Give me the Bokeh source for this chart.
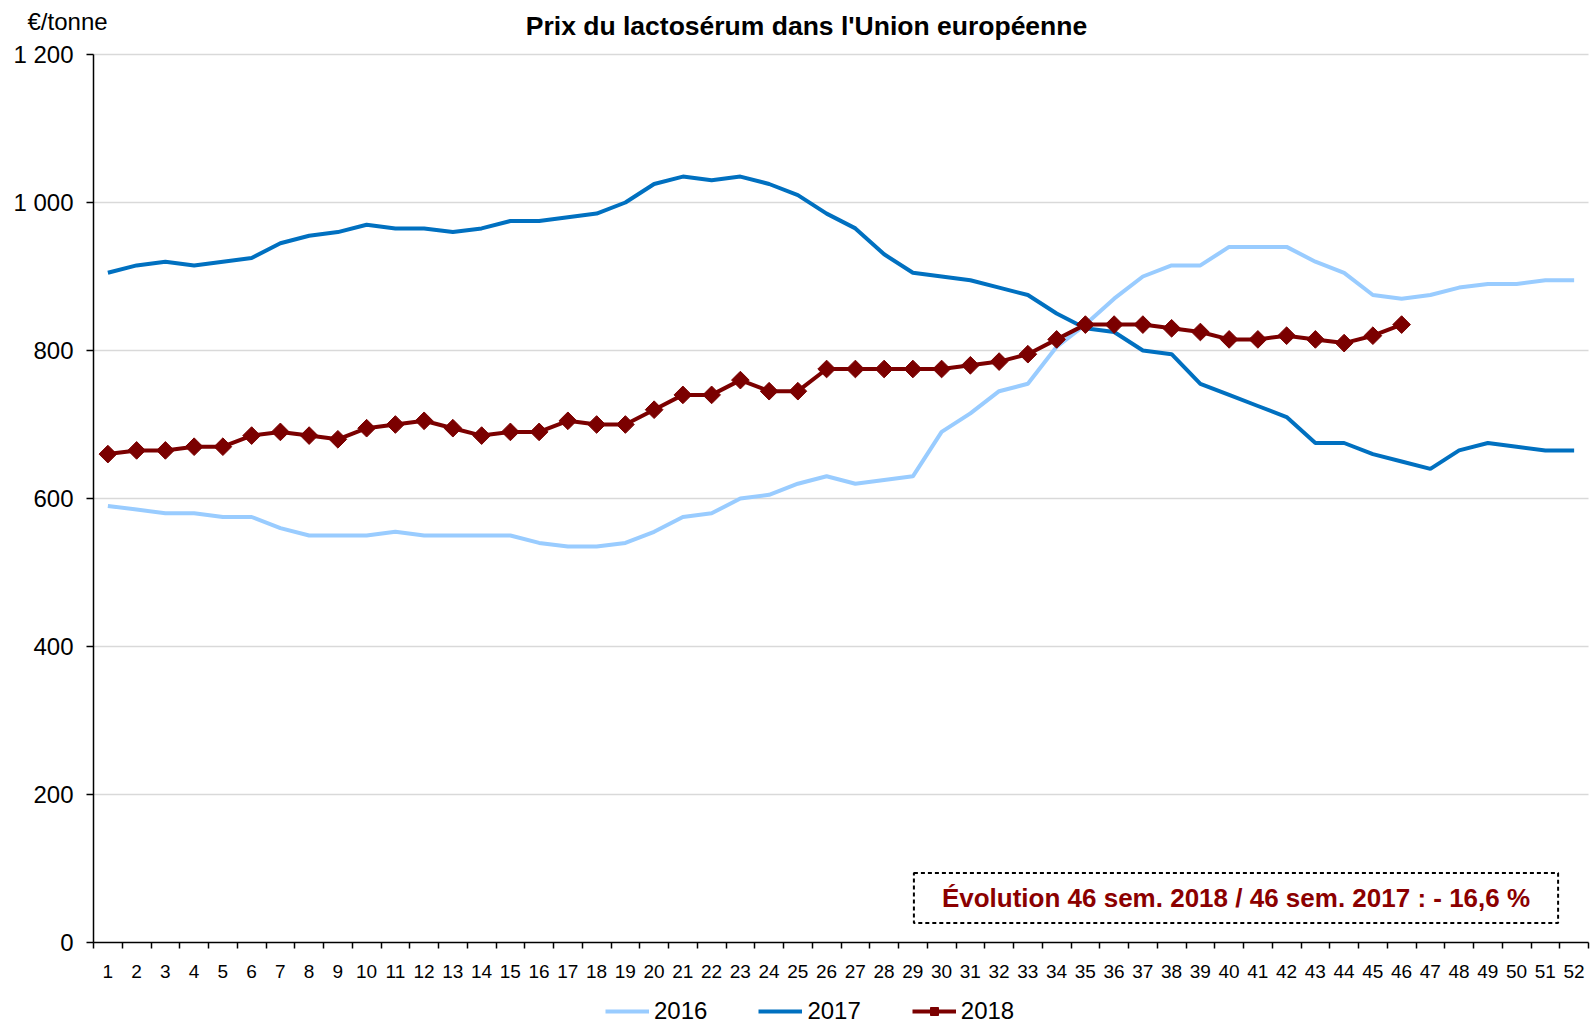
import math
from bokeh.plotting import figure
from bokeh.models import (Range1d, FixedTicker, Label, Legend, LegendItem,
                          LinearAxis, Grid)
from bokeh.embed import file_html
from bokeh.resources import INLINE

weeks = list(range(1, 53))
prix_2016 = [590, 585, 580, 580, 575, 575, 560, 550, 550, 550,
             555, 550, 550, 550, 550, 540, 535, 535, 540, 555,
             575, 580, 600, 605, 620, 630, 620, 625, 630, 690,
             715, 745, 755, 805, 835, 870, 900, 915, 915, 940,
             940, 940, 920, 905, 875, 870, 875, 885, 890, 890,
             895, 895]
prix_2017 = [905, 915, 920, 915, 920, 925, 945, 955, 960, 970,
             965, 965, 960, 965, 975, 975, 980, 985, 1000, 1025,
             1035, 1030, 1035, 1025, 1010, 985, 965, 930, 905, 900,
             895, 885, 875, 850, 830, 825, 800, 795, 755, 740,
             725, 710, 675, 675, 660, 650, 640, 665, 675, 670,
             665, 665]
weeks_2018 = list(range(1, 47))
prix_2018 = [660, 665, 665, 670, 670, 685, 690, 685, 680, 695,
             700, 705, 695, 685, 690, 690, 705, 700, 700, 720,
             740, 740, 760, 745, 745, 775, 775, 775, 775, 775,
             780, 785, 795, 815, 835, 835, 835, 830, 825, 815,
             815, 820, 815, 810, 820, 835]
y_ticks = [0, 200, 400, 600, 800, 1000, 1200]
y_tick_labels = ["0", "200", "400", "600", "800", "1 000", "1 200"]
x_tick_labels = [str(w) for w in weeks]
series_names = ["2016", "2017", "2018"]
title_text = "Prix du lactosérum dans l'Union européenne"
unit_text = "€/tonne"
note_text = "Évolution 46 sem. 2018 / 46 sem. 2017 : - 16,6 %"

C2016 = "#99ccff"
C2017 = "#0070c0"
C2018 = "#7b0000"
FONT = "Liberation Sans"

# page geometry (pixels): the plotting area of the chart
W, H = 1590, 1025
AX_L, AX_R, AX_T, AX_B = 93, 1588, 54, 942
X0, X1 = 0.5, 52.5
Y0, Y1 = 0, 1200
sx = (AX_R - AX_L) / (X1 - X0)
sy = (AX_B - AX_T) / (Y1 - Y0)
x_range = Range1d(X0 - AX_L / sx, X1 + (W - AX_R) / sx)
y_range = Range1d(Y0 - (H - AX_B) / sy, Y1 + AX_T / sy)

p = figure(width=W, height=H, output_backend="svg", toolbar_location=None,
           x_range=x_range, y_range=y_range,
           x_axis_location=None, y_axis_location=None,
           min_border=0, min_border_left=0, min_border_right=0,
           min_border_top=0, min_border_bottom=0)
p.title.visible = False
p.outline_line_color = None
p.background_fill_color = "white"
p.border_fill_color = "white"
p.xgrid.visible = False
p.ygrid.visible = False

xaxis = LinearAxis(fixed_location=Y0, bounds=(X0, X1),
                   ticker=FixedTicker(ticks=weeks, minor_ticks=[w - 0.5 for w in weeks] + [X1]))
xaxis.major_label_overrides = {w: s for w, s in zip(weeks, x_tick_labels)}
xaxis.major_tick_out = 0
xaxis.major_tick_in = 0
xaxis.minor_tick_out = 6
xaxis.minor_tick_in = 0
xaxis.minor_tick_line_color = "black"
xaxis.minor_tick_line_width = 1.5
xaxis.axis_line_color = "black"
xaxis.axis_line_width = 1.5
xaxis.major_label_standoff = 16
xaxis.major_label_text_font = FONT
xaxis.major_label_text_font_size = "19px"
xaxis.major_label_text_color = "black"
p.add_layout(xaxis, "below")

yaxis = LinearAxis(fixed_location=X0, bounds=(Y0, Y1), ticker=FixedTicker(ticks=y_ticks))
yaxis.major_label_overrides = {t: s for t, s in zip(y_ticks, y_tick_labels)}
yaxis.major_tick_out = 7
yaxis.major_tick_in = 0
yaxis.minor_tick_out = 0
yaxis.minor_tick_in = 0
yaxis.axis_line_color = "black"
yaxis.axis_line_width = 1.5
yaxis.major_tick_line_color = "black"
yaxis.major_tick_line_width = 1.5
yaxis.major_label_standoff = 13
yaxis.major_label_text_font = FONT
yaxis.major_label_text_font_size = "24px"
yaxis.major_label_text_color = "black"
p.add_layout(yaxis, "left")

ygrid = Grid(dimension=1, ticker=FixedTicker(ticks=y_ticks[1:]), bounds=(Y0, Y1),
             cross_bounds=(X0, X1), grid_line_color="#d9d9d9", grid_line_width=1.5)
p.add_layout(ygrid)

r16 = p.line(weeks, prix_2016, line_color=C2016, line_width=4)
r17 = p.line(weeks, prix_2017, line_color=C2017, line_width=4)
r18 = p.line(weeks_2018, prix_2018, line_color=C2018, line_width=4)
r18m = p.scatter(weeks_2018, prix_2018, marker="square", angle=math.pi / 4, size=12.5,
                 fill_color=C2018, line_color=C2018, line_width=1)

legend = Legend(items=[LegendItem(label=series_names[0], renderers=[r16]),
                       LegendItem(label=series_names[1], renderers=[r17]),
                       LegendItem(label=series_names[2], renderers=[r18, r18m])],
                orientation="horizontal", location=(605, 0),
                glyph_width=44, glyph_height=20, label_standoff=5, spacing=51,
                label_text_font=FONT, label_text_font_size="24px",
                label_text_color="black",
                border_line_alpha=0, background_fill_alpha=0, padding=0, margin=0)
p.add_layout(legend, "center")

# texts placed in screen pixels measured from the bottom-left corner of the figure
p.add_layout(Label(x=806, y=H - 25.5, x_units="screen", y_units="screen",
                   text=title_text, text_font=FONT, text_font_size="26.5px",
                   text_font_style="bold", text_align="center", text_baseline="middle",
                   text_color="black"))
p.add_layout(Label(x=27, y=H - 20.5, x_units="screen", y_units="screen",
                   text=unit_text, text_font=FONT, text_font_size="24px",
                   text_align="left", text_baseline="middle", text_color="black"))
p.add_layout(Label(x=1235.5, y=H - 897.5, x_units="screen", y_units="screen",
                   text=note_text, text_font=FONT, text_font_size="26px",
                   text_font_style="bold", text_align="center", text_baseline="middle",
                   text_color="#8b0000", border_line_color="black", border_line_width=2,
                   border_line_dash="4 3", padding=(28, 28, 10, 10)))

open("out.html", "w").write(file_html(p, INLINE))
